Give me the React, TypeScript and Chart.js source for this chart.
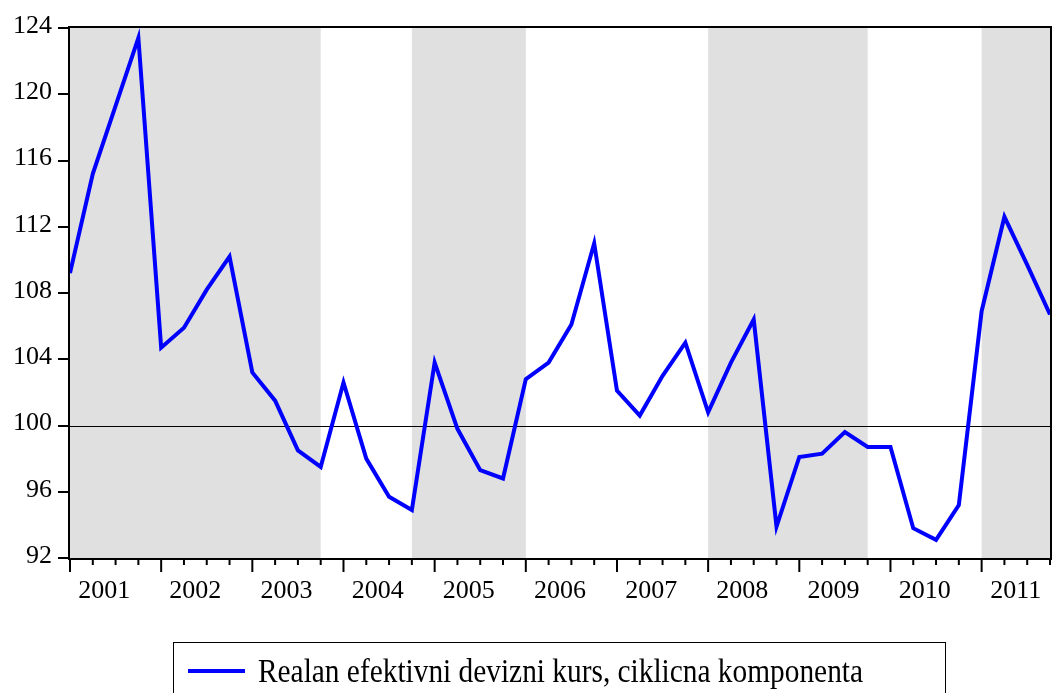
import { useEffect, useRef } from 'react';
import { Chart, registerables } from 'chart.js';

Chart.register(...registerables);

const years = [2001, 2002, 2003, 2004, 2005, 2006, 2007, 2008, 2009, 2010, 2011];
const quarters = years.flatMap((y) => [1, 2, 3, 4].map((q) => `${y}Q${q}`));

const rer = [
  109.2, 115.2, 119.3, 123.4,
  104.7, 105.9, 108.2, 110.2,
  103.2, 101.5, 98.5, 97.5,
  102.6, 98.0, 95.7, 94.9,
  103.8, 99.8, 97.3, 96.8,
  102.8, 103.8, 106.1, 111.0,
  102.1, 100.6, 103.0, 105.0,
  100.8, 103.8, 106.4, 93.9,
  98.1, 98.3, 99.6, 98.7,
  98.7, 93.8, 93.1, 95.2,
  106.9, 112.6, 109.7, 106.7,
];

const yTicks = [92, 96, 100, 104, 108, 112, 116, 120, 124];
const shadedRanges: [number, number][] = [[0, 11], [15, 20], [28, 35], [40, 43]];
const referenceLevel = 100;
const seriesLabel = 'Realan efektivni devizni kurs, ciklicna komponenta';

const FONT = '"Liberation Serif", "Times New Roman", serif';

const evPlugin = {
  id: 'evStyle',
  beforeDatasetsDraw(chart: any) {
    const { ctx, chartArea: ca } = chart;
    const xs = chart.scales.x;
    const ys = chart.scales.y;
    ctx.save();
    ctx.fillStyle = '#e0e0e0';
    for (const [a, b] of shadedRanges) {
      const x0 = xs.getPixelForValue(a);
      const x1 = xs.getPixelForValue(b);
      ctx.fillRect(x0, ca.top, x1 - x0, ca.bottom - ca.top);
    }
    const ry = Math.round(ys.getPixelForValue(referenceLevel)) + 0.5;
    ctx.strokeStyle = '#000';
    ctx.lineWidth = 1;
    ctx.beginPath();
    ctx.moveTo(ca.left, ry);
    ctx.lineTo(ca.right, ry);
    ctx.stroke();
    ctx.restore();
  },
  afterDatasetsDraw(chart: any) {
    const { ctx, chartArea: ca } = chart;
    const xs = chart.scales.x;
    ctx.save();
    // frame
    ctx.strokeStyle = '#000';
    ctx.lineWidth = 2;
    ctx.strokeRect(ca.left - 1, ca.top - 1, ca.right - ca.left + 2, ca.bottom - ca.top + 2);
    // x ticks
    for (let i = 0; i < quarters.length; i++) {
      const px = xs.getPixelForValue(i);
      const len = i % 4 === 0 ? 14 : 7;
      ctx.beginPath();
      ctx.moveTo(px, ca.bottom);
      ctx.lineTo(px, ca.bottom + len);
      ctx.stroke();
    }
    // year labels
    ctx.fillStyle = '#000';
    ctx.font = `26px ${FONT}`;
    ctx.textAlign = 'center';
    ctx.textBaseline = 'alphabetic';
    years.forEach((y, k) => {
      const px = (xs.getPixelForValue(4 * k + 1) + xs.getPixelForValue(4 * k + 2)) / 2;
      ctx.fillText(String(y), px, ca.bottom + 40);
    });
    // legend
    ctx.lineWidth = 1;
    ctx.strokeStyle = '#000';
    ctx.strokeRect(173.5, 642.5, 772, 100);
    ctx.strokeStyle = '#0000ff';
    ctx.lineWidth = 4;
    ctx.beginPath();
    ctx.moveTo(188, 671);
    ctx.lineTo(245, 671);
    ctx.stroke();
    ctx.font = `34px ${FONT}`;
    ctx.textAlign = 'left';
    const w = ctx.measureText(seriesLabel).width;
    const sx = 605 / w;
    ctx.translate(258, 682);
    ctx.scale(sx, 1);
    ctx.fillText(seriesLabel, 0, 0);
    ctx.restore();
  },
};

export default function App() {
  const ref = useRef<HTMLCanvasElement>(null);
  useEffect(() => {
    if (!ref.current) return;
    const chart = new Chart(ref.current, {
      type: 'line',
      data: {
        labels: quarters,
        datasets: [
          {
            label: seriesLabel,
            data: rer,
            borderColor: '#0000ff',
            borderWidth: 4,
            borderJoinStyle: 'miter',
            pointRadius: 0,
            tension: 0,
            fill: false,
          },
        ],
      },
      options: {
        animation: false,
        responsive: true,
        maintainAspectRatio: false,
        layout: { padding: { top: 28, right: 3, bottom: 135, left: 0 } },
        plugins: { legend: { display: false }, tooltip: { enabled: false } },
        scales: {
          x: {
            type: 'category',
            display: false,
            offset: false,
          },
          y: {
            min: 92,
            max: 124,
            afterFit: (s: any) => {
              s.width = 70;
            },
            afterBuildTicks: (s: any) => {
              s.ticks = yTicks.map((v) => ({ value: v }));
            },
            ticks: {
              color: '#000',
              font: { family: FONT, size: 26 },
              padding: 6,
              labelOffset: -2,
            },
            grid: {
              drawOnChartArea: false,
              drawTicks: true,
              tickLength: 12,
              color: '#000',
              lineWidth: 2,
            },
            border: { display: true, color: '#000', width: 2 },
          },
        },
      },
      plugins: [evPlugin],
    });
    return () => chart.destroy();
  }, []);
  return (
    <div style={{ position: 'absolute', left: 0, top: 0, width: 1053, height: 693, background: '#fff' }}>
      <canvas ref={ref} />
    </div>
  );
}
